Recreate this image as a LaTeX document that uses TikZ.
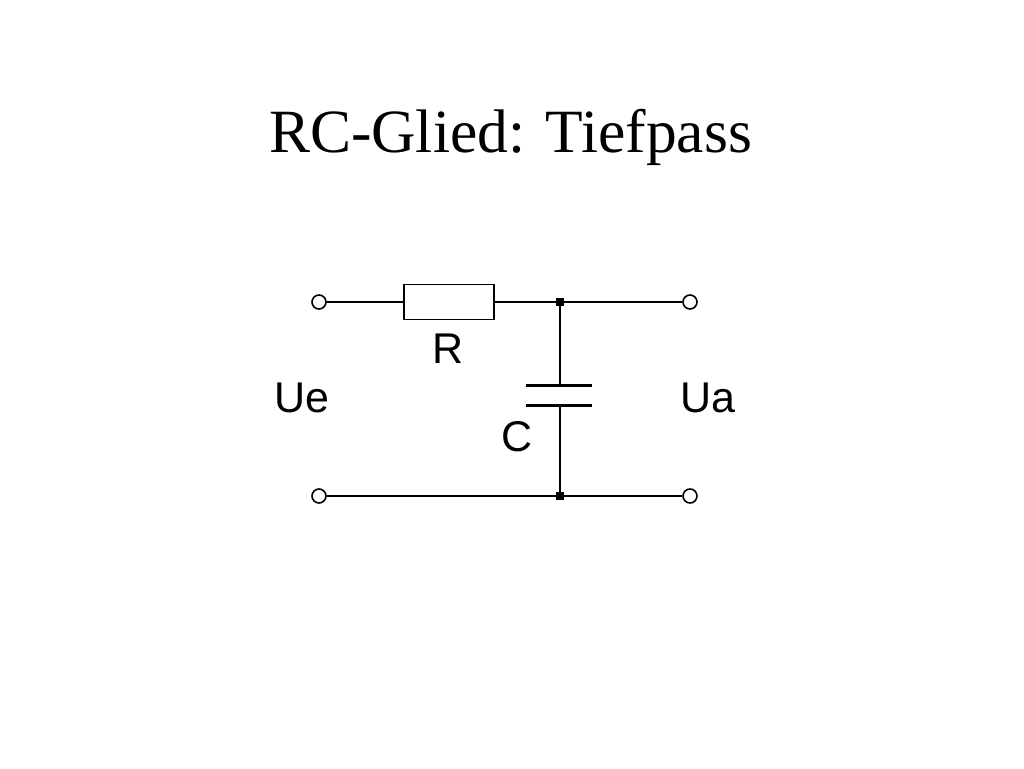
\documentclass[tikz,border=0pt]{standalone}
\usepackage{fontspec}
\setmainfont{Liberation Serif}
\newfontfamily\labelfont{Liberation Sans}
\begin{document}
\begin{tikzpicture}[x=1pt,y=-1pt,
  wire/.style={line width=1.8pt},
  term/.style={circle,draw,line width=1.6pt,minimum size=14pt,inner sep=0pt,fill=white},
  junc/.style={rectangle,fill=black,minimum width=8pt,minimum height=8pt,inner sep=0pt},
  lbl/.style={anchor=base,inner sep=0pt,font=\labelfont\fontsize{43}{43}\selectfont},
  plate/.style={line width=3pt}]
\useasboundingbox[fill=white] (0,0) rectangle (1024,768);
\node[anchor=base,inner sep=0pt,font=\fontsize{61.5}{61.5}\selectfont] (title) at (510.5,152) {RC-Glied: Tiefpass};
% terminals
\node[term] (t1) at (319,302) {};
\node[term] (t2) at (319,496) {};
\node[term] (t3) at (690,302) {};
\node[term] (t4) at (690,496) {};
% junction positions
\coordinate (j1) at (560,302);
\coordinate (j2) at (560,496);
% resistor
\node[draw,line width=1.8pt,minimum width=90pt,minimum height=35pt,inner sep=0pt] (R) at (449,302) {};
% capacitor plates
\coordinate (c1l) at (525.5,385.5);
\coordinate (c1r) at (591.5,385.5);
\coordinate (c2l) at (525.5,405);
\coordinate (c2r) at (591.5,405);
\coordinate (c1) at (560,385.5);
\coordinate (c2) at (560,405);
\draw[plate] (c1l) -- (c1r);
\draw[plate] (c2l) -- (c2r);
% wires
\draw[wire] (t1) -- (R.west);
\draw[wire] (R.east) -- (j1);
\draw[wire] (j1) -- (t3);
\draw[wire] (j1) -- (c1);
\draw[wire] (c2) -- (j2);
\draw[wire] (t2) -- (j2) -- (t4);
\node[junc] (d1) at (j1) {};
\node[junc] (d2) at (j2) {};
% labels
\node[lbl] (lR) at (448,363) {R};
\node[lbl] (lUe) at (302,412.5) {Ue};
\node[lbl] (lUa) at (708,412.5) {Ua};
\node[lbl] (lC) at (517,451.5) {C};
\end{tikzpicture}
\end{document}
